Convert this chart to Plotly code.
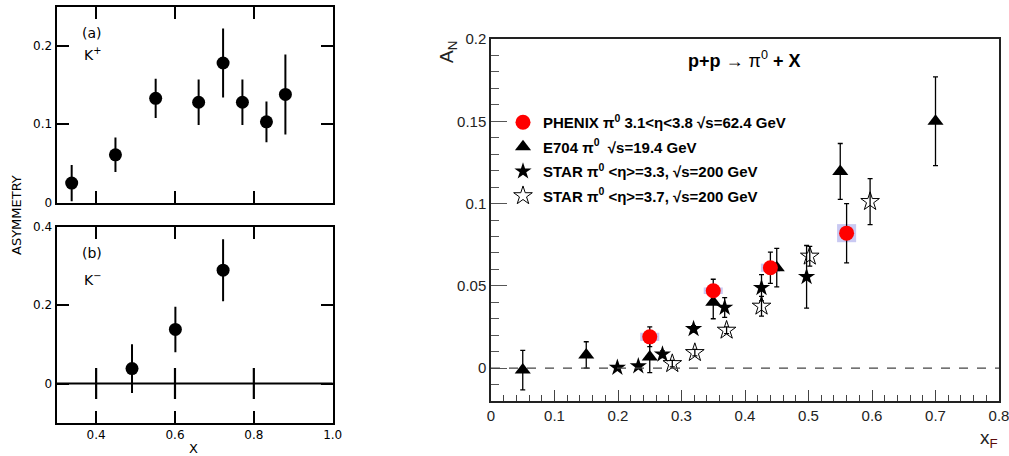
import plotly.graph_objects as go

# ---------------- data ----------------
# left panel (a) K+
kp_x = [0.338, 0.449, 0.551, 0.660, 0.722, 0.771, 0.832, 0.880]
kp_y = [0.025, 0.061, 0.133, 0.128, 0.178, 0.128, 0.103, 0.138]
kp_e = [0.023, 0.022, 0.025, 0.029, 0.044, 0.029, 0.026, 0.051]
# left panel (b) K-
km_x = [0.491, 0.601, 0.722]
km_y = [0.038, 0.138, 0.289]
km_e = [0.062, 0.058, 0.079]
left_xticks = [0.4, 0.6, 0.8, 1.0]
left_xticktext = ["0.4", "0.6", "0.8", "1.0"]

# right panel
phx_x = [0.25, 0.35, 0.44, 0.56]
phx_y = [0.019, 0.047, 0.061, 0.082]
phx_e = [0.006, 0.007, 0.0095, 0.018]
phx_sys = [0.0025, 0.002, 0.0025, 0.0055]
phx_xw = 0.015

e704_x = [0.05, 0.15, 0.25, 0.35, 0.45, 0.55, 0.70]
e704_y = [-0.0012, 0.008, 0.0067, 0.040, 0.061, 0.1195, 0.150]
e704_e = [0.012, 0.008, 0.0095, 0.010, 0.0117, 0.017, 0.027]

star33_x = [0.199, 0.232, 0.270, 0.319, 0.368, 0.426, 0.497]
star33_y = [0.0003, 0.0012, 0.0084, 0.0238, 0.0368, 0.0488, 0.0555]
star33_e = [0.001, 0.001, 0.002, 0.002, 0.006, 0.008, 0.019]

star37_x = [0.2855, 0.321, 0.371, 0.426, 0.502, 0.597]
star37_y = [0.0027, 0.0094, 0.023, 0.0376, 0.068, 0.1012]
star37_e = [0.002, 0.002, 0.002, 0.006, 0.006, 0.014]

right_xticks = [0, 0.1, 0.2, 0.3, 0.4, 0.5, 0.6, 0.7, 0.8]
right_xticktext = ["0", "0.1", "0.2", "0.3", "0.4", "0.5", "0.6", "0.7", "0.8"]
right_yticks = [0, 0.05, 0.1, 0.15, 0.2]
right_yticktext = ["0", "0.05", "0.1", "0.15", "0.2"]

W, H = 1009, 456
def px(x):
    return x / W
def py(y):
    return 1 - y / H

fig = go.Figure()

# ---- left panels ----
fig.add_trace(go.Scatter(x=kp_x, y=kp_y, mode="markers", xaxis="x", yaxis="y",
                         marker=dict(symbol="circle", size=13, color="black"),
                         error_y=dict(type="data", array=kp_e, color="black", thickness=2, width=0),
                         showlegend=False))
fig.add_trace(go.Scatter(x=km_x, y=km_y, mode="markers", xaxis="x2", yaxis="y2",
                         marker=dict(symbol="circle", size=13, color="black"),
                         error_y=dict(type="data", array=km_e, color="black", thickness=2, width=0),
                         showlegend=False))
# tick marks crossing the zero line in (b)
fig.add_trace(go.Scatter(x=left_xticks[:-1], y=[0] * (len(left_xticks) - 1), mode="markers",
                         xaxis="x2", yaxis="y2",
                         marker=dict(symbol="line-ns-open", size=22, color="black",
                                     line=dict(width=2.2, color="black")),
                         showlegend=False, hoverinfo="skip"))

# ---- right panel ----
fig.add_trace(go.Scatter(x=e704_x, y=e704_y, mode="markers", xaxis="x3", yaxis="y3",
                         name="<b>E704 π<sup>0</sup>  √s=19.4 GeV</b>", legendrank=2,
                         legendgroup="b",
                         marker=dict(symbol="triangle-up", size=14, color="black"),
                         error_y=dict(type="data", array=e704_e, color="black", thickness=1.3, width=2.5)))
fig.add_trace(go.Scatter(x=star33_x, y=star33_y, mode="markers", xaxis="x3", yaxis="y3",
                         name="<b>STAR π<sup>0</sup> &lt;η&gt;=3.3, √s=200 GeV</b>", legendrank=3,
                         legendgroup="c",
                         marker=dict(symbol="star", size=13, color="black"),
                         error_y=dict(type="data", array=star33_e, color="black", thickness=1.3, width=2.5)))
fig.add_trace(go.Scatter(x=star37_x, y=star37_y, mode="markers", xaxis="x3", yaxis="y3",
                         name="<b>STAR π<sup>0</sup> &lt;η&gt;=3.7, √s=200 GeV</b>", legendrank=4,
                         legendgroup="d",
                         marker=dict(symbol="star-open", size=14, color="black", line=dict(width=1, color="black")),
                         error_y=dict(type="data", array=star37_e, color="black", thickness=1.3, width=2.5)))
fig.add_trace(go.Scatter(x=phx_x, y=phx_y, mode="markers", xaxis="x3", yaxis="y3",
                         name="<b>PHENIX π<sup>0</sup> 3.1&lt;η&lt;3.8 √s=62.4 GeV</b>", legendrank=1,
                         legendgroup="a",
                         marker=dict(symbol="circle", size=15, color="#ff0000"),
                         error_y=dict(type="data", array=phx_e, color="black", thickness=1.3, width=2.5)))

shapes = []
# systematic boxes for PHENIX
for xv, yv, sv in zip(phx_x, phx_y, phx_sys):
    shapes.append(dict(type="rect", xref="x3", yref="y3", x0=xv - phx_xw, x1=xv + phx_xw,
                       y0=yv - sv, y1=yv + sv, fillcolor="#c9c9f2", line=dict(width=0),
                       layer="below"))
# dashed zero line on right
shapes.append(dict(type="line", xref="x3 domain", yref="y3", x0=0, x1=1, y0=0, y1=0,
                   line=dict(color="#444", width=1.3, dash="dash")))
# zero line in (b)
shapes.append(dict(type="line", xref="x2 domain", yref="y2", x0=0, x1=1, y0=0, y1=0,
                   line=dict(color="black", width=2)))

left_font = dict(family="DejaVu Sans", size=12, color="black")
right_font = dict(family="Liberation Sans", size=15, color="#222")

left_axis_common = dict(showline=True, linecolor="black", linewidth=2.2, mirror="allticks",
                        ticks="inside", ticklen=12, tickwidth=2.2, tickcolor="black",
                        showgrid=False, zeroline=False, tickfont=left_font,
                        ticklabeloverflow="allow")


def ann(text, x, y, size, family="DejaVu Sans", color="black", angle=0):
    return dict(text=text, x=px(x), y=py(y), xref="paper", yref="paper",
                xanchor="center", yanchor="middle", textangle=angle, showarrow=False,
                font=dict(family=family, size=size, color=color))


layout = dict(
    template="none",
    width=W, height=H, margin=dict(l=0, r=0, t=0, b=0, pad=0),
    paper_bgcolor="white", plot_bgcolor="white",
    xaxis=dict(domain=[px(56.7), px(332.7)], range=[0.3, 1.0], anchor="y",
               tickvals=left_xticks[:-1], showticklabels=False, **left_axis_common),
    yaxis=dict(domain=[py(202.7), py(7.3)], range=[0, 0.249], anchor="x",
               tickvals=[0, 0.1, 0.2], ticktext=["0", "0.1", "0.2"], **left_axis_common),
    xaxis2=dict(domain=[px(56.7), px(332.7)], range=[0.3, 1.0], anchor="y2",
                tickvals=left_xticks, ticktext=left_xticktext, **left_axis_common),
    yaxis2=dict(domain=[py(422.7), py(226.7)], range=[-0.1, 0.4], anchor="x2",
                tickvals=[0, 0.2, 0.4], ticktext=["0", "0.2", "0.4"], **left_axis_common),
    xaxis3=dict(domain=[px(491), px(999)], range=[0, 0.8], anchor="y3",
                showline=True, linecolor="#222", linewidth=1.5, mirror=True,
                ticks="inside", ticklen=11, tickwidth=1.3, tickcolor="#444",
                tickvals=right_xticks, ticktext=right_xticktext, ticklabeloverflow="allow",
                minor=dict(dtick=0.02, tick0=0, ticks="inside", ticklen=6, tickwidth=1.3,
                           tickcolor="#444", showgrid=False),
                showgrid=False, zeroline=False, tickfont=right_font),
    yaxis3=dict(domain=[py(401), py(39)], range=[-0.02, 0.2], anchor="x3",
                showline=True, linecolor="#222", linewidth=1.5, mirror=True,
                ticks="inside", ticklen=16, tickwidth=1.3, tickcolor="#555",
                tickvals=right_yticks, ticktext=right_yticktext, ticklabeloverflow="allow",
                minor=dict(dtick=0.01, tick0=0, ticks="inside", ticklen=8, tickwidth=1.3,
                           tickcolor="#555", showgrid=False),
                showgrid=False, zeroline=False, tickfont=right_font),
    legend=dict(x=px(503), y=py(106), xanchor="left", yanchor="top",
                bgcolor="rgba(0,0,0,0)", font=dict(family="Liberation Sans", size=15, color="black"),
                tracegroupgap=2, itemsizing="trace"),
    shapes=shapes,
    annotations=[
        ann("ASYMMETRY", 16, 215, 13, angle=-90),
        ann("X", 193, 448, 13),
        ann("(a)", 92, 33, 14),
        ann("K<sup>+</sup>", 92, 54, 14),
        ann("(b)", 92, 253, 14),
        ann("K<sup>−</sup>", 92, 279, 14),
        ann("<b>p+p</b> → π<sup>0</sup> <b>+ X</b>", 744, 60, 18, family="Liberation Sans"),
        ann("A<sub>N</sub>", 448, 52, 19, family="Liberation Sans", color="#222", angle=-90),
        ann("x<sub><span style='color:#5a0a0a'>F</span></sub>", 989, 439, 19,
            family="Liberation Sans", color="#222"),
    ],
)
fig.update_layout(**layout)
fig.write_html("out.html")
